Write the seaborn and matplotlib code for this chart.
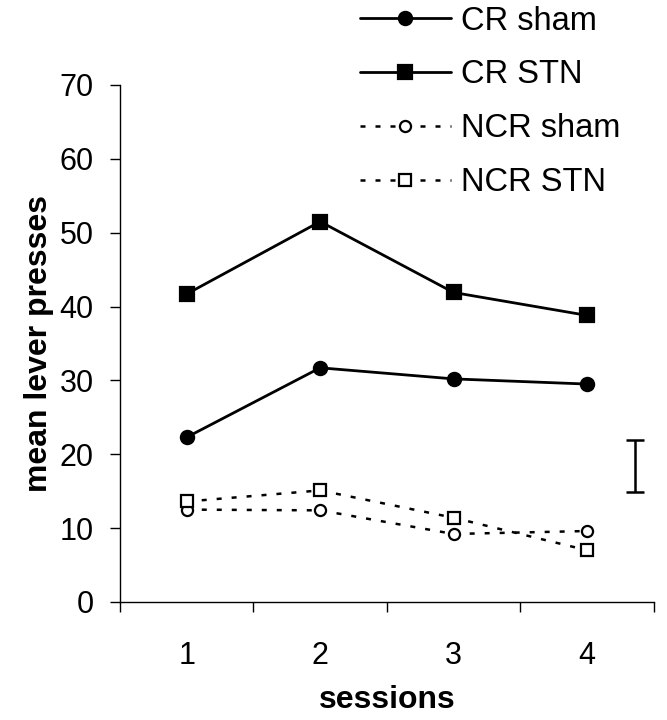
import matplotlib
matplotlib.use("Agg")
import matplotlib.pyplot as plt
import numpy as np
import pandas as pd
import seaborn as sns

# ─── Data ────────────────────────────────────────────────────────────────────
sessions = [1, 2, 3, 4]
cr_sham = [22.3, 31.7, 30.2, 29.5]
cr_stn = [41.7, 51.5, 41.9, 38.8]
ncr_sham = [12.5, 12.4, 9.2, 9.6]
ncr_stn = [13.6, 15.1, 11.4, 7.0]
series_names = ["CR sham", "CR STN", "NCR sham", "NCR STN"]

# single representative error bar on the right
err_x = 4.36
err_low, err_high = 14.9, 21.9

sns.set_theme(style="white")
plt.rcParams["font.family"] = ["Liberation Sans", "DejaVu Sans"]
for key in ["text.color", "axes.labelcolor", "xtick.color", "ytick.color"]:
    plt.rcParams[key] = "black"

fig = plt.figure(figsize=(6.67, 7.2), dpi=100)
ax = fig.add_axes([0.18, 0.164, 0.80, 0.718])

styles = [
    dict(marker="o", linestyle="-", mfc="black", ms=9.5),
    dict(marker="s", linestyle="-", mfc="black", ms=10),
    dict(marker="o", linestyle=(0, (2, 4)), mfc="white", ms=8),
    dict(marker="s", linestyle=(0, (2, 4)), mfc="white", ms=8.5),
]
values = [cr_sham, cr_stn, ncr_sham, ncr_stn]

handles = []
for name, vals, st in zip(series_names, values, styles):
    lw = 2.0 if st["linestyle"] == "-" else 1.8
    sns.lineplot(x=sessions, y=vals, ax=ax, color="black", linewidth=lw,
                 linestyle=st["linestyle"], marker=st["marker"],
                 markersize=st["ms"], markerfacecolor=st["mfc"],
                 markeredgecolor="black", markeredgewidth=1.6)
    handles.append(ax.lines[-1])

ax.errorbar([err_x], [(err_low + err_high) / 2], yerr=[(err_high - err_low) / 2],
            color="black", capsize=6.5, elinewidth=1.8, capthick=1.8, fmt="none")

ax.set_xlim(0.5, 4.5)
ax.set_ylim(0, 70)
ax.set_yticks(range(0, 71, 10))
ax.set_xticks(sessions)
ax.set_xticks([0.5, 1.5, 2.5, 3.5, 4.5], minor=True)
ax.tick_params(axis="x", which="major", length=0, pad=28, labelsize=22)
ax.tick_params(axis="x", which="minor", length=7, width=1, color="black",
               direction="out", bottom=True)
ax.tick_params(axis="y", length=7, width=1, color="black", direction="out",
               left=True, pad=12, labelsize=22)

for side in ["top", "right"]:
    ax.spines[side].set_visible(False)
for side in ["left", "bottom"]:
    ax.spines[side].set_color("black")
    ax.spines[side].set_linewidth(1)

ax.set_xlabel("sessions", fontsize=23, fontweight="bold", labelpad=10)
ax.set_ylabel("mean lever presses", fontsize=23, fontweight="bold", labelpad=4)

fig.legend(handles, series_names, loc="upper left", bbox_to_anchor=(0.495, 1.033),
           frameon=False, fontsize=23.5, handlelength=2.8, labelspacing=0.7,
           handletextpad=0.3)

fig.savefig("out.png", dpi=100)
